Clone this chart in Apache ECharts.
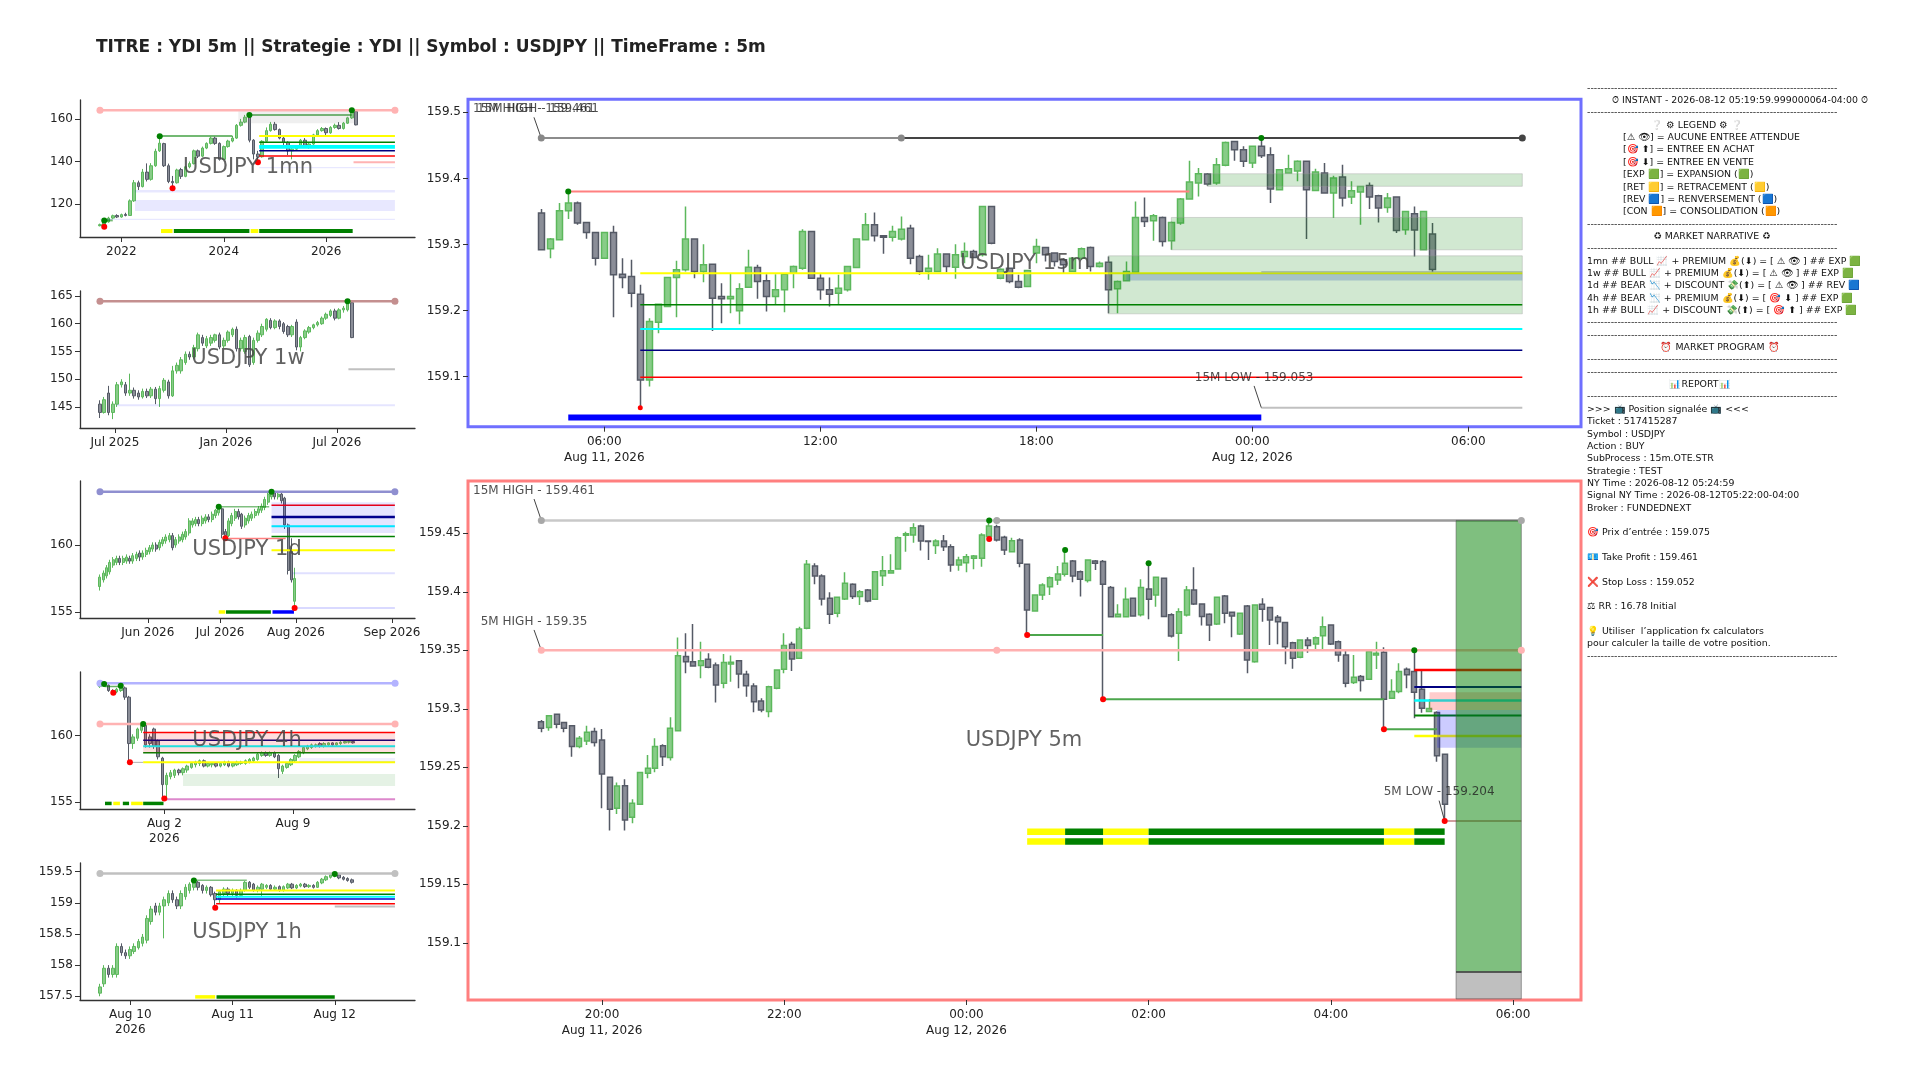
<!doctype html>
<html>
<head>
<meta charset="utf-8">
<script src="https://cdn.jsdelivr.net/npm/echarts@6.0.0/dist/echarts.min.js"></script>
<style>html,body{margin:0;padding:0;background:#fff;}#main{width:1920px;height:1080px;}</style>
</head>
<body>
<div id="main"></div>
<script type="text/javascript">
// ---------- candles : [open, close, low, high] ----------
var c1mn = [
[109.8,110.3,109.5,110.8],[110.2,111.6,109.3,112.3],[111.6,113.4,111.2,114.0],[113.4,114.5,113.0,115.0],
[114.6,113.9,113.4,115.2],[113.9,115.0,113.6,115.5],[115.1,114.6,114.2,115.9],[114.6,121.5,114.4,122.2],
[121.5,130.0,121.0,131.3],[130.0,128.2,126.6,131.0],[128.2,135.0,127.8,136.5],[135.0,131.6,130.6,139.1],
[131.6,138.0,131.0,139.2],[138.0,144.8,137.5,146.0],[145.0,148.6,144.5,151.9],[148.4,138.0,137.4,148.8],
[138.0,130.6,129.8,139.0],[130.6,130.0,127.4,133.2],[130.0,136.0,129.6,136.6],[136.2,133.0,131.8,137.0],
[133.0,137.5,132.6,138.0],[137.5,139.0,136.8,140.0],[139.0,145.0,138.6,145.6],[145.0,142.5,141.6,145.6],
[142.5,146.3,142.0,147.0],[146.3,148.5,145.8,149.0],[148.5,151.0,148.0,151.6],[151.0,148.5,147.8,151.6],
[148.5,141.0,140.4,149.0],[141.0,147.0,140.8,147.5],[147.0,149.6,146.5,150.2],[149.6,151.0,149.0,152.0],
[151.0,157.0,150.6,157.6],[157.0,158.5,156.4,160.0],[158.5,160.8,158.0,161.9],[161.0,150.0,149.0,161.9],
[150.0,143.5,141.0,150.5],[143.5,142.2,139.6,145.0],[142.2,149.5,141.8,150.0],[149.5,154.5,149.0,156.0],
[154.5,157.5,154.0,158.6],[157.5,155.0,154.5,158.6],[155.0,151.0,150.4,155.5],[151.0,149.0,147.0,151.5],
[149.0,145.0,143.0,149.5],[145.0,145.8,141.0,146.5],[145.8,147.0,145.0,147.6],[147.0,150.0,146.6,150.6],
[150.0,147.5,147.0,151.0],[147.5,148.2,146.0,148.8],[148.2,152.5,147.8,153.0],[152.5,154.5,152.0,155.2],
[154.5,155.5,154.0,156.2],[155.5,153.5,152.0,156.0],[153.5,156.0,153.0,156.6],[156.0,157.0,155.4,157.8],
[157.0,155.5,155.0,158.5],[155.5,158.0,155.0,158.6],[158.0,160.5,157.6,161.0],[160.5,163.5,160.0,164.1],
[163.5,157.2,157.0,163.8]
];
var c1w = [
[145.5,144.0,143.0,146.2],[144.0,146.3,143.8,146.8],[147.5,144.0,143.5,148.8],[144.0,145.5,142.8,146.0],
[145.5,149.0,145.0,149.5],[149.0,149.5,148.5,150.0],[149.0,147.5,147.0,149.5],[147.5,148.0,147.0,151.0],
[148.0,147.0,146.5,148.5],[147.5,146.8,146.3,148.0],[146.8,147.8,146.5,148.3],[147.8,147.0,146.6,148.3],
[147.0,148.2,146.6,148.6],[148.2,146.5,145.5,148.6],[146.5,148.3,145.0,148.8],[148.0,149.8,147.6,150.2],
[149.5,147.0,146.5,149.9],[147.0,151.5,146.8,152.4],[151.5,152.5,151.0,153.0],[151.5,153.5,151.0,154.0],
[153.0,154.5,152.6,155.0],[154.5,154.0,153.5,155.0],[154.0,155.7,153.6,156.2],[155.5,158.0,155.0,158.4],
[157.5,156.5,156.0,158.0],[156.0,157.3,155.6,157.8],[156.5,157.5,156.0,158.0],[157.0,158.0,156.6,158.2],
[158.0,155.8,155.4,158.4],[156.0,157.0,155.6,157.5],[157.0,158.5,156.6,158.8],[158.0,159.0,157.6,159.3],
[159.0,155.5,155.0,159.5],[155.5,157.0,155.0,157.5],[155.0,157.5,154.6,158.0],[157.7,152.6,152.2,158.0],
[153.0,157.0,152.6,157.5],[157.0,158.3,156.6,158.8],[158.0,159.5,157.6,160.0],[159.0,160.8,158.6,161.0],
[160.6,159.3,159.0,161.0],[159.3,160.5,159.0,160.8],[160.5,159.5,159.0,160.8],[160.0,158.6,158.2,160.3],
[159.5,158.0,157.6,159.8],[158.0,159.5,157.6,159.8],[160.3,155.8,155.2,160.8],[155.8,157.5,155.0,157.8],
[157.5,158.7,157.2,159.0],[158.5,159.3,158.2,159.6],[159.3,159.8,159.0,160.0],[159.8,160.2,159.5,160.5],
[160.0,161.0,159.8,161.3],[161.0,161.7,160.7,162.0],[161.5,162.3,161.2,162.6],[162.3,161.0,160.6,162.7],
[161.0,162.5,160.8,162.8],[162.5,162.8,162.0,163.2],[162.5,164.0,162.2,164.1],[163.8,157.5,157.4,164.0]
];
var c1d = [
[156.9,157.6,156.6,157.8],[157.4,157.9,157.2,158.1],[157.7,158.3,157.5,158.5],[158.0,158.7,157.8,158.9],
[158.5,158.9,158.3,159.1],[158.7,159.0,158.5,159.2],[159.0,158.7,158.5,159.2],[158.7,159.0,158.5,159.2],
[158.8,159.1,158.6,159.3],[159.0,158.8,158.6,159.2],[158.8,159.2,158.6,159.4],[159.0,159.3,158.8,159.5],
[159.4,159.1,158.8,159.6],[159.1,159.4,158.9,159.6],[159.3,159.6,159.1,159.8],[159.5,159.8,159.3,160.0],
[159.7,160.0,159.5,160.2],[160.0,159.7,159.5,160.2],[159.8,160.2,159.6,160.4],[160.1,160.4,159.9,160.6],
[160.3,160.6,160.1,160.8],[160.4,160.7,160.2,160.9],[160.7,159.8,159.6,160.9],[160.0,160.4,159.8,160.6],
[160.3,160.6,160.1,160.8],[160.4,160.8,160.2,161.0],[160.6,161.0,160.4,161.2],[160.9,161.8,160.7,162.0],
[161.5,161.8,161.3,162.0],[161.6,161.9,161.4,162.1],[161.9,161.6,161.4,162.1],[161.6,162.0,161.4,162.2],
[161.8,162.1,161.6,162.3],[162.1,161.9,161.7,162.3],[161.9,162.3,161.7,162.5],[162.2,162.6,162.0,162.7],
[162.4,162.8,162.2,162.86],[162.7,160.8,160.5,162.8],[161.0,160.7,160.5,161.2],[160.7,161.8,160.6,162.0],
[161.6,162.2,161.4,162.4],[162.0,162.5,161.8,162.7],[162.5,162.1,161.9,162.7],[162.3,161.4,161.2,162.4],
[161.5,162.0,161.3,162.2],[161.8,162.2,161.6,162.4],[162.0,162.3,161.8,162.5],[162.2,162.5,162.0,162.7],
[162.4,162.7,162.2,162.9],[162.6,162.9,162.4,163.1],[162.8,163.4,162.6,163.6],[163.2,163.8,163.0,163.9],
[163.6,163.9,163.4,163.97],[163.9,163.6,163.4,163.95],[163.6,163.8,163.4,163.9],[163.8,163.3,163.1,163.9],
[163.5,161.5,161.2,163.6],[161.5,158.1,157.8,161.6],[159.6,157.4,157.2,160.5],[155.8,157.5,155.3,158.3]
];
var c4h = [
[163.7,163.9,163.6,163.95],[163.8,163.9,163.7,163.96],[163.8,163.4,163.3,163.9],[163.4,163.3,163.2,163.5],
[163.3,163.5,163.2,163.6],[163.4,163.6,163.3,163.76],[163.6,162.9,162.7,163.7],[162.9,159.4,158.0,163.0],
[159.4,159.9,159.0,160.1],[159.8,160.5,159.6,160.6],[160.4,160.8,160.2,160.9],[160.8,159.3,159.1,160.9],
[159.9,159.4,159.1,160.1],[160.5,159.2,159.0,160.6],[159.6,158.4,158.2,159.7],[158.3,156.3,155.25,158.4],
[156.3,157.0,155.2,157.2],[156.9,157.2,156.7,157.4],[157.0,157.4,156.8,157.5],[157.4,157.2,157.0,157.5],
[157.2,157.5,157.0,157.6],[157.4,157.7,157.2,157.8],[157.6,157.9,157.5,158.0],[157.8,158.0,157.6,158.1],
[157.9,158.1,157.7,158.2],[158.1,157.7,157.6,158.2],[157.7,157.9,157.6,158.0],[157.8,157.9,157.6,158.0],
[157.9,157.7,157.6,158.0],[157.7,157.9,157.6,158.0],[157.8,158.0,157.7,158.1],[158.0,157.7,157.6,158.1],
[157.7,157.9,157.6,158.0],[157.8,158.0,157.7,158.1],[157.9,158.0,157.8,158.1],[157.9,158.1,157.8,158.2],
[158.0,158.2,157.9,158.3],[158.1,158.3,158.0,158.4],[158.2,158.6,158.1,158.7],[158.5,158.7,158.4,158.8],
[158.7,158.5,158.4,158.8],[158.5,158.7,158.4,158.8],[158.7,158.4,158.3,158.8],[158.5,157.5,156.8,158.6],
[157.3,157.7,157.1,157.8],[157.6,157.9,157.5,158.0],[157.8,158.2,157.7,158.3],[158.1,158.5,158.0,158.6],
[158.4,158.8,158.3,158.9],[158.7,159.1,158.6,159.2],[159.0,159.2,158.9,159.3],[159.1,159.3,159.0,159.4],
[159.2,159.3,159.1,159.4],[159.4,159.2,159.1,159.5],[159.2,159.4,159.1,159.5],[159.3,159.45,159.2,159.5],
[159.45,159.3,159.2,159.5],[159.3,159.45,159.2,159.5],[159.4,159.5,159.3,159.6],[159.45,159.55,159.4,159.6],
[159.5,159.55,159.4,159.6],[159.55,159.45,159.4,159.6]
];
var c1h = [
[157.55,157.65,157.5,157.7],[157.7,157.95,157.65,158.0],[157.95,157.85,157.8,158.0],[157.85,157.95,157.8,158.0],
[157.85,158.3,157.8,158.35],[158.3,158.2,158.15,158.35],[158.2,158.15,158.1,158.25],[158.15,158.25,158.1,158.3],
[158.22,158.3,158.18,158.35],[158.28,158.38,158.25,158.42],[158.35,158.45,158.3,158.5],[158.4,158.75,158.35,158.8],
[158.7,158.9,158.65,158.95],[158.95,158.85,158.8,159.0],[158.85,158.95,158.8,159.0],[158.95,159.05,158.43,159.1],
[159.0,159.15,158.95,159.2],[159.15,159.05,159.0,159.2],[159.05,158.95,158.9,159.1],[158.95,159.15,158.9,159.2],
[159.1,159.25,159.05,159.3],[159.2,159.3,159.15,159.33],[159.25,159.35,159.2,159.36],[159.33,159.25,159.2,159.35],
[159.28,159.2,159.15,159.3],[159.2,159.25,159.15,159.28],[159.25,159.13,159.1,159.27],[159.15,159.05,158.92,159.18],
[159.05,159.18,159.0,159.2],[159.15,159.22,159.1,159.25],[159.22,159.15,159.1,159.25],[159.15,159.2,159.1,159.23],
[159.2,159.12,159.08,159.22],[159.12,159.2,159.1,159.23],[159.2,159.33,159.18,159.35],[159.33,159.25,159.22,159.35],
[159.3,159.2,159.18,159.32],[159.2,159.25,159.17,159.28],[159.22,159.3,159.1,159.32],[159.25,159.28,159.22,159.3],
[159.28,159.22,159.2,159.3],[159.22,159.25,159.2,159.28],[159.26,159.2,159.18,159.28],[159.2,159.26,159.18,159.28],
[159.24,159.3,159.22,159.32],[159.3,159.24,159.22,159.32],[159.24,159.28,159.22,159.3],[159.27,159.3,159.25,159.32],
[159.3,159.26,159.24,159.32],[159.26,159.28,159.24,159.3],[159.28,159.25,159.23,159.3],[159.25,159.33,159.24,159.35],
[159.32,159.38,159.3,159.4],[159.37,159.42,159.35,159.44],[159.41,159.45,159.39,159.46],[159.43,159.46,159.41,159.465],
[159.45,159.4,159.38,159.46],[159.41,159.38,159.36,159.43],[159.39,159.36,159.34,159.41],[159.37,159.33,159.31,159.39]
];
var c15m = [
[159.3475,159.2919,159.2909,159.3535],[159.2934,159.3081,159.2793,159.3096],[159.3071,159.351,159.3071,159.3626],
[159.351,159.3626,159.3384,159.3803],[159.3626,159.3323,159.3298,159.3652],[159.3333,159.3182,159.3086,159.3333],
[159.3182,159.2793,159.2682,159.3182],[159.2793,159.3182,159.2793,159.3182],[159.3182,159.254,159.1899,159.3283],
[159.255,159.25,159.2338,159.2793],[159.2515,159.2263,159.205,159.2768],[159.2247,159.095,159.053,159.2389],
[159.095,159.1833,159.085,159.1884],[159.1823,159.2096,159.1657,159.2096],[159.206,159.25,159.205,159.251],
[159.25,159.2616,159.1899,159.2753],[159.2616,159.3081,159.2591,159.3576],[159.3081,159.2591,159.249,159.3081],
[159.2591,159.2692,159.2429,159.3005],[159.2702,159.2187,159.1692,159.2702],[159.2212,159.2177,159.1808,159.2414],
[159.2177,159.2212,159.196,159.2556],[159.1995,159.2328,159.1793,159.2414],[159.2354,159.2657,159.2343,159.2919],
[159.2652,159.2439,159.2177,159.2692],[159.245,159.2212,159.1985,159.255],[159.2212,159.2313,159.2096,159.255],
[159.2313,159.255,159.1975,159.255],[159.2566,159.2667,159.2338,159.2682],[159.2641,159.3197,159.2616,159.3232],
[159.3197,159.249,159.249,159.3197],[159.249,159.2313,159.2162,159.255],[159.2313,159.2247,159.206,159.25],
[159.2263,159.2338,159.2086,159.254],[159.2313,159.2667,159.2288,159.2667],[159.2652,159.3081,159.2641,159.3081],
[159.3071,159.3298,159.3061,159.3475],[159.3298,159.3131,159.3045,159.3485],[159.3131,159.3111,159.2859,159.3131],
[159.3111,159.3197,159.3045,159.3283],[159.3081,159.3232,159.3061,159.3424],[159.3247,159.2793,159.2702,159.3298],
[159.2818,159.2591,159.254,159.2843],[159.2591,159.2641,159.2465,159.2843],[159.2591,159.2854,159.2581,159.2944],
[159.2854,159.2667,159.2581,159.2854],[159.2657,159.2843,159.248,159.3005],[159.2818,159.2894,159.2717,159.303],
[159.2894,159.2803,159.2793,159.2919],[159.2843,159.3576,159.2818,159.3586],[159.3576,159.302,159.3005,159.3586],
[159.249,159.2626,159.2475,159.2641],[159.2641,159.2439,159.2414,159.2652],[159.2439,159.2354,159.2338,159.254],
[159.2364,159.2606,159.2354,159.2616],[159.287,159.297,159.2717,159.3086],[159.2955,159.2843,159.2742,159.2955],
[159.2869,159.2742,159.2667,159.2879],[159.2768,159.2692,159.2556,159.2793],[159.2591,159.2793,159.2581,159.2803],
[159.2793,159.2934,159.2768,159.2955],[159.2955,159.2667,159.2591,159.297],[159.2667,159.2717,159.2652,159.2742],
[159.2732,159.2313,159.196,159.2818],[159.2328,159.2439,159.196,159.2454],[159.245,159.2591,159.244,159.2742],
[159.2581,159.3409,159.2566,159.3652],[159.3409,159.3348,159.3263,159.3712],[159.3359,159.3434,159.3055,159.346],
[159.3409,159.3045,159.297,159.3424],[159.3055,159.3333,159.2919,159.3348],[159.3323,159.3687,159.3298,159.3702],
[159.3687,159.3944,159.3677,159.4268],[159.3929,159.4071,159.3727,159.4157],[159.4066,159.3914,159.3889,159.4081],
[159.3929,159.4207,159.3904,159.4308],[159.4197,159.4545,159.4182,159.456],[159.456,159.4434,159.4268,159.457],
[159.4434,159.4258,159.4172,159.4485],[159.4232,159.4485,159.4157,159.4495],[159.4485,159.4343,159.4308,159.461],
[159.4359,159.3838,159.3626,159.447],[159.3828,159.4131,159.3818,159.4141],[159.4081,159.4146,159.4071,159.4359],
[159.411,159.426,159.3955,159.4273],[159.4258,159.3828,159.3081,159.4258],[159.3818,159.4096,159.3813,159.4146],
[159.4081,159.3778,159.3768,159.4232],[159.3778,159.4005,159.3399,159.404],[159.402,159.3702,159.3576,159.4207],
[159.3717,159.3813,159.3611,159.3955],[159.3793,159.3879,159.3298,159.3889],[159.3894,159.3717,159.3535,159.3939],
[159.3737,159.355,159.3333,159.3752],[159.356,159.3702,159.348,159.3778],[159.3717,159.3212,159.3172,159.3727],
[159.3222,159.35,159.3146,159.351],[159.3465,159.322,159.2818,159.3576],[159.292,159.35,159.292,159.35],
[159.316,159.262,159.258,159.3323]
];
var c5m = [
[159.289,159.2833,159.28,159.2905],[159.284,159.294,159.2813,159.2947],[159.2953,159.2868,159.2833,159.2953],
[159.2882,159.2833,159.28,159.289],[159.2856,159.2677,159.259,159.2862],[159.2677,159.2748,159.2662,159.2768],
[159.2725,159.2799,159.269,159.2856],[159.2805,159.2711,159.2677,159.2839],[159.2734,159.2443,159.215,159.2828],
[159.2415,159.2141,159.1959,159.2415],[159.215,159.2341,159.2101,159.2369],[159.2343,159.205,159.1959,159.2397],
[159.2073,159.2192,159.2021,159.2226],[159.2184,159.2455,159.2178,159.2455],[159.2449,159.2491,159.2406,159.2605],
[159.2491,159.2677,159.2457,159.2748],[159.2685,159.2591,159.2511,159.2697],[159.2583,159.2833,159.2557,159.2927],
[159.2813,159.3454,159.2813,159.3609],[159.3446,159.3403,159.3303,159.3645],[159.3403,159.3366,159.3366,159.3725],
[159.3369,159.3411,159.3262,159.3574],[159.3423,159.3355,159.3346,159.3474],[159.3375,159.3204,159.3053,159.3395],
[159.3218,159.3395,159.3175,159.3469],[159.3383,159.3397,159.3232,159.3455],[159.3411,159.3298,159.3175,159.3417],
[159.3295,159.3198,159.3104,159.3326],[159.3195,159.3061,159.297,159.3218],[159.3067,159.299,159.297,159.309],
[159.2976,159.3189,159.2927,159.3198],[159.3175,159.3332,159.3167,159.3338],[159.3337,159.354,159.3303,159.3645],
[159.3551,159.3426,159.3323,159.3574],[159.3432,159.3682,159.3426,159.3702],[159.3688,159.4235,159.368,159.4272],
[159.4221,159.4135,159.4064,159.4244],[159.4135,159.3939,159.3882,159.415],[159.3944,159.3808,159.3725,159.3996],
[159.3816,159.3953,159.3782,159.3959],[159.3939,159.4073,159.393,159.4167],[159.4064,159.3959,159.3939,159.4073],
[159.3959,159.4001,159.3887,159.4016],[159.4016,159.3922,159.391,159.4024],[159.3936,159.4172,159.3936,159.4178],
[159.4137,159.4179,159.405,159.4306],[159.416,159.4179,159.416,159.432],[159.4195,159.4463,159.4192,159.4472],
[159.4484,159.4497,159.4343,159.4514],[159.4486,159.4548,159.442,159.4585],[159.4563,159.4434,159.4352,159.4572],
[159.4434,159.4429,159.4272,159.4434],[159.4395,159.4434,159.4323,159.4449],[159.4434,159.4386,159.4348,159.4486],
[159.4386,159.4229,159.4172,159.4406],[159.4229,159.4272,159.4179,159.43],[159.4249,159.43,159.4167,159.4323],
[159.4286,159.4306,159.4192,159.4315],[159.4286,159.4486,159.4215,159.45],[159.4472,159.4563,159.4452,159.461],
[159.4557,159.4443,159.4429,159.4572],[159.4466,159.4358,159.4315,159.4478],[159.4343,159.4437,159.4335,159.4463],
[159.4443,159.4244,159.4209,159.4458],[159.4235,159.3845,159.3631,159.4235],[159.3836,159.3973,159.383,159.398],
[159.3973,159.4058,159.393,159.4073],[159.4044,159.4121,159.3973,159.413],[159.4101,159.4152,159.4058,159.4221],
[159.415,159.4244,159.413,159.4358],[159.4264,159.4136,159.4082,159.4272],[159.4172,159.4107,159.3959,159.4181],
[159.4096,159.4272,159.4079,159.4278],[159.4264,159.4244,159.4187,159.4272],[159.4258,159.4064,159.3081,159.4272],
[159.4037,159.3786,159.378,159.405],[159.3786,159.3809,159.378,159.3894],[159.3786,159.3937,159.378,159.4037],
[159.3944,159.3794,159.3789,159.395],[159.3803,159.4037,159.3789,159.4108],[159.4023,159.3937,159.3766,159.4244],
[159.3973,159.4124,159.3873,159.413],[159.4116,159.3788,159.3782,159.4121],[159.3803,159.3623,159.3609,159.3816],
[159.3645,159.383,159.3409,159.3859],[159.3802,159.4016,159.3788,159.405],[159.4016,159.3896,159.3887,159.421],
[159.3896,159.3788,159.3711,159.3902],[159.3808,159.3716,159.358,159.3816],[159.3725,159.3953,159.3716,159.3959],
[159.3964,159.3816,159.3731,159.3973],[159.3825,159.3793,159.3611,159.383],[159.364,159.3816,159.3631,159.3822],
[159.3879,159.3417,159.3303,159.3887],[159.3403,159.3887,159.3394,159.3893],[159.3893,159.385,159.3745,159.3944],
[159.3865,159.3759,159.3545,159.3873],[159.3782,159.3745,159.3551,159.3802],[159.3737,159.3531,159.338,159.3745],
[159.3565,159.3431,159.3343,159.3574],[159.344,159.3588,159.3431,159.3594],[159.3588,159.354,159.348,159.3611],
[159.3554,159.3608,159.3503,159.3617],[159.3625,159.3702,159.3503,159.3788],[159.3716,159.3554,159.3546,159.3722],
[159.3574,159.346,159.3403,159.3583],[159.346,159.3218,159.3184,159.3497],[159.3224,159.327,159.3212,159.346],
[159.3275,159.3241,159.3147,159.3289],[159.3252,159.3489,159.3246,159.3509],[159.346,159.3475,159.334,159.3574],
[159.3483,159.3081,159.2825,159.3526],[159.309,159.3147,159.3084,159.3252],[159.3147,159.3318,159.3132,159.3389],
[159.3338,159.329,159.3175,159.3352],[159.3318,159.3141,159.2919,159.35],[159.3167,159.3004,159.2967,159.3332],
[159.2976,159.3003,159.297,159.3084],[159.2969,159.2598,159.2547,159.2978],[159.2612,159.2185,159.2036,159.2612]
];

// ---------- tick positions / labels ----------
var tx1mn = [5, 29, 53],            lx1mn = ['2022', '2024', '2026'];
var tx1w  = [3.5, 29.5, 55.5],      lx1w  = ['Jul 2025', 'Jan 2026', 'Jul 2026'];
var tx1d  = [14.5, 36.4, 59.4, 88.5], lx1d = ['Jun 2026', 'Jul 2026', 'Aug 2026', 'Sep 2026'];
var tx4h  = [15.5, 46.5],           lx4h  = ['Aug 2\n2026', 'Aug 9'];
var tx1h  = [7.1, 31.1, 55],        lx1h  = ['Aug 10\n2026', 'Aug 11', 'Aug 12'];
var tx15m = [7, 31, 55, 79, 103],   lx15m = ['06:00\nAug 11, 2026', '12:00', '18:00', '00:00\nAug 12, 2026', '06:00'];
var tx5m  = [8, 32, 56, 80, 104, 128], lx5m = ['20:00\nAug 11, 2026', '22:00', '00:00\nAug 12, 2026', '02:00', '04:00', '06:00'];
var ty1mn = [120, 140, 160];
var ty1w  = [145, 150, 155, 160, 165];
var ty1d  = [155, 160];
var ty4h  = [155, 160];
var ty1h  = [157.5, 158, 158.5, 159, 159.5];
var ty15m = [159.1, 159.2, 159.3, 159.4, 159.5];
var ty5m  = [159.1, 159.15, 159.2, 159.25, 159.3, 159.35, 159.4, 159.45];

// ---------- levels : [x0, x1, price] ----------
var lv1mn = [[0,69.1,164.1],[1.2,3,112.3],[14,31,152.0],[35,59,161.9],[37.3,69.1,152.0],[37.3,69.1,149.0],
             [37.3,69.1,147.3],[37.3,69.1,146.5],[37.3,69.1,145.0],[37.3,69.1,142.6],[59.4,69.1,139.6]];
var lv1w  = [[0,69.1,164.05],[3.9,69.1,145.3],[58.2,69.1,151.8]];
var lv1d  = [[0,89.4,163.97],[36,51.3,162.86],[38,56.3,160.49],[52,89.4,162.97],[52,89.4,162.1],
             [52,89.4,161.4],[52,89.4,160.63],[52,89.4,159.6],[58.3,89.4,157.9],[59,89.4,155.3]];
var lv4h  = [[0,71.1,163.96],[0,71.1,160.87],[10.4,71.1,160.23],[10.4,71.1,159.65],[10.4,71.1,159.2],
             [10.4,71.1,158.7],[10.4,71.1,157.98],[7.2,10.4,157.98],[15.5,71.1,155.2],[1.1,4.8,163.7]];
var lv1h  = [[0,69.1,159.47],[22,34.4,159.365],[27.2,69.1,159.2],[27.2,69.1,159.14],[27.2,69.1,159.1],
             [27.2,69.1,159.06],[27.2,69.1,158.985],[55,69.1,158.94]];
var lv15m = [[0,40,159.461],[40,109,159.461],[3,72,159.38],[11,109,159.2566],[11,109,159.2086],
             [11,109,159.1722],[11,109,159.14],[11,109,159.099],[80,109,159.053],[80,109,159.2585]];
var lv5m  = [[0,60,159.461],[60,129.1,159.461],[0,129.1,159.35],[64,74,159.3631],[74,111,159.3081],
             [111,118,159.2825],[115,129.1,159.3332],[115,129.1,159.3187],[115,129.1,159.307],
             [115,129.1,159.2942],[115,129.1,159.2768],[119,129.1,159.204],[120.5,129.1,159.075]];

// ---------- zones : [x0, x1, low, high] ----------
var zn1mnGrey = [[32.4,59.8,158.0,163.5]];
var zn1mnBlue = [[8.2,69.1,125.4,126.6],[8.2,69.1,116.7,121.9],[0,69.1,112.5,113.1],[37.3,69.1,136.8,137.4]];
var zn1dBlue  = [[52,89.4,160.9,163.2]];
var zn4hPink  = [[10.4,71.1,158.7,160.23]];
var zn4hGreen = [[20,71.1,156.2,157.1]];
var zn4hBlue  = [[48,71.1,157.98,158.3]];
var zn15Green = [[74,109,159.388,159.407],[70,109,159.2919,159.3409],[63,109,159.195,159.2828]];
var zn15Steel = [[65,109,159.2455,159.2556]];
var zn5Pink   = [[117,129.1,159.299,159.3141]];
var zn5Blue   = [[118,129.1,159.2668,159.299]];
var zn5Tp     = [[120.5,129.1,159.075,159.461]];
var zn5Sl     = [[120.5,129.1,159.052,159.075]];

// ---------- phase bars : [x0, x1] on a price row ----------
var bd1mnY = [[14.3,17],[35.3,37.1]], bd1mnG = [[17.3,35],[37.3,59.2]], row1mn = [107.3];
var bd1dY = [[36,38]], bd1dG = [[38.2,51.8]], bd1dB = [[52.3,58.8]], row1d = [155.0];
var bd4hY = [[3.2,4.8],[7.5,10.3]], bd4hG = [[1.2,2.8],[5.5,7],[10.4,15.3]], row4h = [154.88];
var bd1hY = [[22.3,27]], bd1hG = [[27.3,55]], row1h = [157.49];
var bd15B = [[3,80]], row15 = [159.038];
var bd5Y = [[64,69],[74,80],[111,115]], bd5G = [[69,74],[80,111],[115,119]], row5 = [159.195, 159.1865];

// ---------- swing / level dots : [x, price] ----------
var dt1mnG = [[1,112.3],[14,151.9],[35,161.9],[59,164.1]], dt1mnR = [[1,109.3],[17,127.4],[37,139.6]], dt1mnP = [[0,164.1],[69.1,164.1]];
var dt1wG = [[58,164.05]], dt1wP = [[0,164.05],[69.1,164.05]];
var dt1dG = [[36,162.86],[52,163.97]], dt1dR = [[38,160.5],[59,155.3]], dt1dP = [[0,163.97],[89.4,163.97]];
var dt4hG = [[1,163.9],[5,163.76],[10.4,160.87]], dt4hR = [[3.2,163.24],[7.2,157.98],[15.5,155.25]];
var dt4hL = [[0,163.96],[71.1,163.96]], dt4hP = [[0,160.87],[71.1,160.87]];
var dt1hG = [[22,159.36],[55,159.465]], dt1hR = [[27,158.92]], dt1hP = [[0,159.47],[69.1,159.47]];
var dt15Grey = [[0,159.461],[40,159.461]], dt15Dark = [[109,159.461]], dt15G = [[3,159.3803],[80,159.461]], dt15R = [[11,159.053]];
var dt5Grey = [[0,159.461],[60,159.461],[129.1,159.461]], dt5Pink = [[0,159.35],[60,159.35],[129.1,159.35]];
var dt5G = [[59,159.461],[69,159.4358],[80,159.4244],[115,159.35]];
var dt5R = [[59,159.4452],[64,159.3631],[74,159.3081],[111,159.2825],[119,159.204]];

// ---------- annotations : [text, labelX, labelY, pointX, pointY] ----------
var an15 = [['15M HIGH - 159.461', -0.81, 159.4924, 0, 159.461], ['15M LOW - 159.053', 79.2, 159.0859, 80, 159.053]];
var an5 = [['15M HIGH - 159.461', -0.96, 159.4793, 0, 159.461], ['5M HIGH - 159.35', -0.96, 159.3674, 0, 159.35],
           ['5M LOW - 159.204', 118.27, 159.2215, 119, 159.204]];

var panelLines = [
  ['-', 'dash'], ['⏱ INSTANT - 2026-08-12 05:19:59.999000064-04:00 ⏱', 'c1740'], ['-', 'dash'],
  ['❔ ⚙ LEGEND ⚙ ❔', 'c1697'],
  ['[⚠ 👁] = AUCUNE ENTREE ATTENDUE', 'i'], ['[🎯 ⬆] = ENTREE EN ACHAT', 'i'], ['[🎯 ⬇] = ENTREE EN VENTE', 'i'],
  ['[EXP 🟩] = EXPANSION (🟩)', 'i'], ['[RET 🟨] = RETRACEMENT (🟨)', 'i'], ['[REV 🟦] = RENVERSEMENT (🟦)', 'i'],
  ['[CON 🟧] = CONSOLIDATION (🟧)', 'i'], ['-', 'dash'], ['♻ MARKET NARRATIVE ♻', 'c1712'], ['-', 'dash'],
  ['1mn ## BULL 📈 + PREMIUM 💰(⬇) = [ ⚠ 👁 ] ## EXP 🟩', 'l'],
  ['1w ## BULL 📈 + PREMIUM 💰(⬇) = [ ⚠ 👁 ] ## EXP 🟩', 'l'],
  ['1d ## BEAR 📉 + DISCOUNT 💸(⬆) = [ ⚠ 👁 ] ## REV 🟦', 'l'],
  ['4h ## BEAR 📉 + PREMIUM 💰(⬇) = [ 🎯 ⬇ ] ## EXP 🟩', 'l'],
  ['1h ## BULL 📈 + DISCOUNT 💸(⬆) = [ 🎯 ⬆ ] ## EXP 🟩', 'l'],
  ['-', 'dash'], ['-', 'dash'], ['⏰ MARKET PROGRAM ⏰', 'c1720'], ['-', 'dash'], ['-', 'dash'],
  ['📊REPORT📊', 'c1700'], ['-', 'dash'],
  ['>>> 📺 Position signalée 📺 <<<', 'l'], ['Ticket : 517415287', 'l'], ['Symbol : USDJPY', 'l'], ['Action : BUY', 'l'],
  ['SubProcess : 15m.OTE.STR', 'l'], ['Strategie : TEST', 'l'], ['NY Time : 2026-08-12 05:24:59', 'l'],
  ['Signal NY Time : 2026-08-12T05:22:00-04:00', 'l'], ['Broker : FUNDEDNEXT', 'l'], ['', 'l'],
  ['🎯 Prix d’entrée : 159.075', 'l'], ['', 'l'], ['💶 Take Profit : 159.461', 'l'], ['', 'l'],
  ['❌ Stop Loss : 159.052', 'l'], ['', 'l'], ['⚖ RR : 16.78 Initial', 'l'], ['', 'l'],
  ['💡 Utiliser  l’application fx calculators', 'l'], ['pour calculer la taille de votre position.', 'l'], ['-', 'dash']
];

// ---------- build ----------
var FONT = 'DejaVu Sans';
var UP = '#88cc88', UPB = '#5cb85c', DN = '#8b8e98', DNB = '#555a66';
var grids = [], xAxes = [], yAxes = [], series = [], graphics = [];

function lookup(ticks, labels, v) {
  for (var i = 0; i < ticks.length; i++) { if (Math.abs(ticks[i] - v) < 1e-6) return labels[i]; }
  return '';
}
function panel(box, xr, yr, xt, xl, yt, frame, lh) {
  var g = grids.length;
  grids.push({left: box[0], top: box[1], width: box[2], height: box[3], show: !!frame,
    borderColor: frame || '#000', borderWidth: 3, backgroundColor: 'rgba(0,0,0,0)'});
  xAxes.push({type: 'value', gridIndex: g, min: xr[0], max: xr[1], splitLine: {show: false},
    axisLine: {show: !frame, onZero: false, lineStyle: {color: '#333', width: 1.3}},
    axisTick: {show: true, customValues: xt, length: 5, lineStyle: {color: '#333', width: 1}},
    axisLabel: {customValues: xt, formatter: function (v) { return lookup(xt, xl, v); },
      fontFamily: FONT, fontSize: 12, color: '#222', margin: 7, lineHeight: lh || 16}});
  yAxes.push({type: 'value', gridIndex: g, min: yr[0], max: yr[1], splitLine: {show: false},
    axisLine: {show: !frame, onZero: false, lineStyle: {color: '#333', width: 1.3}},
    axisTick: {show: true, customValues: yt, length: 5, lineStyle: {color: '#333', width: 1}},
    axisLabel: {customValues: yt, formatter: function (v) { return String(+v.toFixed(2)); },
      fontFamily: FONT, fontSize: 12, color: '#222', margin: 7}});
  return g;
}
function candles(g, arr, w, bw) {
  series.push({type: 'candlestick', xAxisIndex: g, yAxisIndex: g, silent: true, z: 2, barWidth: w,
    data: arr.map(function (d, i) { return [i, d[0], d[1], d[2], d[3]]; }),
    encode: {x: 0, y: [1, 2, 3, 4]},
    itemStyle: {color: UP, color0: DN, borderColor: UPB, borderColor0: DNB, borderWidth: bw}});
}
function levels(g, list, styles, z) {
  list.forEach(function (d, i) {
    series.push({type: 'line', xAxisIndex: g, yAxisIndex: g, silent: true, z: (styles[i][2] || z || 3),
      data: [[d[0], d[2]], [d[1], d[2]]], symbol: 'none',
      lineStyle: {color: styles[i][0], width: styles[i][1]}});
  });
}
function dots(g, pts, color, size, z) {
  series.push({type: 'scatter', xAxisIndex: g, yAxisIndex: g, silent: true, z: z || 7,
    data: pts, symbolSize: size, itemStyle: {color: color, opacity: 1}});
}
function zones(g, list, fill, stroke, z) {
  series.push({type: 'custom', xAxisIndex: g, yAxisIndex: g, silent: true, z: z || 4, clip: true, data: list,
    renderItem: function (p, api) {
      var a = api.coord([api.value(0), api.value(3)]), b = api.coord([api.value(1), api.value(2)]);
      return {type: 'rect', shape: {x: a[0], y: a[1], width: b[0] - a[0], height: b[1] - a[1]},
        style: {fill: fill, stroke: stroke || null, lineWidth: 1}};
    }});
}
function bands(g, list, rows, color, h) {
  rows.forEach(function (r) {
    series.push({type: 'custom', xAxisIndex: g, yAxisIndex: g, silent: true, z: 5, data: list,
      renderItem: function (p, api) {
        var a = api.coord([api.value(0), r]), b = api.coord([api.value(1), r]);
        return {type: 'rect', shape: {x: a[0], y: a[1] - h / 2, width: b[0] - a[0], height: h}, style: {fill: color}};
      }});
  });
}
function annots(g, list, dup) {
  list.forEach(function (a) {
    series.push({type: 'line', xAxisIndex: g, yAxisIndex: g, silent: true, z: 6, symbol: 'none',
      data: [[a[1], a[2]], [a[3], a[4]]], lineStyle: {color: '#444', width: 1}});
    var offs = dup ? [0, 4] : [0];
    offs.forEach(function (o) {
      series.push({type: 'scatter', xAxisIndex: g, yAxisIndex: g, silent: true, z: 8, symbolSize: 1,
        itemStyle: {color: 'rgba(0,0,0,0)'}, data: [[a[1], a[2]]],
        label: {show: true, position: 'top', distance: 2, offset: [o, 0], formatter: a[0],
          fontFamily: FONT, fontSize: 12, color: '#222'}});
    });
  });
}
function mark(cx, cy, text) {
  graphics.push({type: 'text', x: cx, y: cy, z: 100, silent: true,
    style: {text: text, font: '21px "DejaVu Sans"', fill: 'rgba(70,70,70,0.85)', textAlign: 'center', textVerticalAlign: 'middle'}});
}

// small panels
var g1 = panel([80, 100, 335, 137], [-4.68, 73.8], [104.5, 168.9], tx1mn, lx1mn, ty1mn);
var g2 = panel([80, 291, 335, 137], [-4.68, 73.8], [141.2, 165.9], tx1w, lx1w, ty1w);
var g3 = panel([80, 481, 335, 137], [-6.06, 95.5], [154.55, 164.78], tx1d, lx1d, ty1d);
var g4 = panel([80, 672, 335, 137], [-4.82, 75.9], [154.46, 164.8], tx4h, lx4h, ty4h, null, 15);
var g5 = panel([80, 863, 335, 137], [-4.68, 73.8], [157.44, 159.64], tx1h, lx1h, ty1h, null, 15);
var g6 = panel([468, 99.3, 1113, 327.4], [-8.14, 115.52], [159.0242, 159.5197], tx15m, lx15m, ty15m, '#6f6fff');
var g7 = panel([468, 481, 1113, 519], [-9.66, 136.96], [159.0511, 159.4947], tx5m, lx5m, ty5m, '#ff7f7f');

// 1mn
candles(g1, c1mn, 3, 1);
zones(g1, zn1mnGrey, 'rgba(128,128,128,0.13)');
zones(g1, zn1mnBlue, 'rgba(0,0,255,0.09)');
levels(g1, lv1mn, [['#ffb3b3',2.5],['rgba(0,128,0,0.55)',2],['rgba(0,128,0,0.55)',2],['rgba(0,128,0,0.55)',2],
  ['#ffff00',2],['#008000',1.5],['#00ffff',2],['#00ffff',2],['#000080',1.5],['#ff0000',1.5],['#ffb3b3',2]]);
bands(g1, bd1mnY, row1mn, '#ffff00', 4); bands(g1, bd1mnG, row1mn, '#008000', 4);
dots(g1, dt1mnP, '#ffb3b3', 7); dots(g1, dt1mnG, '#008000', 6); dots(g1, dt1mnR, '#ff0000', 6);
mark(248, 168, 'USDJPY 1mn');

// 1w
candles(g2, c1w, 3, 1);
levels(g2, lv1w, [['#c48f8f',2.5],['rgba(0,0,255,0.1)',2],['#c0c0c0',2]]);
dots(g2, dt1wP, '#c48f8f', 7); dots(g2, dt1wG, '#008000', 6);
mark(248, 359, 'USDJPY 1w');

// 1d
candles(g3, c1d, 2.5, 1);
zones(g3, zn1dBlue, 'rgba(0,0,255,0.1)');
levels(g3, lv1d, [['#8f8fd0',2.5],['rgba(0,128,0,0.5)',1.5],['rgba(255,0,0,0.5)',1.5],['#ff0000',1.5],['#000080',2.5],
  ['#00ffff',2],['#008000',1.5],['#ffff00',2],['rgba(0,0,255,0.12)',2],['rgba(0,0,255,0.15)',2]]);
bands(g3, bd1dY, row1d, '#ffff00', 3.5); bands(g3, bd1dG, row1d, '#008000', 3.5); bands(g3, bd1dB, row1d, '#0000ff', 3.5);
dots(g3, dt1dP, '#8f8fd0', 7); dots(g3, dt1dG, '#008000', 6); dots(g3, dt1dR, '#ff0000', 6);
mark(247, 550, 'USDJPY 1d');

// 4h
candles(g4, c4h, 3, 1);
zones(g4, zn4hPink, 'rgba(255,0,0,0.13)');
zones(g4, zn4hGreen, 'rgba(0,128,0,0.1)');
zones(g4, zn4hBlue, 'rgba(0,0,255,0.06)');
levels(g4, lv4h, [['#b3b3ff',2.5],['#ffb3b3',2.5],['#ff0000',1.5],['#000080',1.5],['#00ffff',2],['#008000',1.5],
  ['#ffff00',2],['#b0b0b0',1],['#dd88cc',2],['rgba(0,128,0,0.6)',1.5]]);
bands(g4, bd4hY, row4h, '#ffff00', 3.5); bands(g4, bd4hG, row4h, '#008000', 3.5);
dots(g4, dt4hL, '#b3b3ff', 7); dots(g4, dt4hP, '#ffb3b3', 7); dots(g4, dt4hG, '#008000', 6); dots(g4, dt4hR, '#ff0000', 6);
mark(247, 741, 'USDJPY 4h');

// 1h
candles(g5, c1h, 3, 1);
levels(g5, lv1h, [['#c0c0c0',2.5],['rgba(0,128,0,0.5)',1.5],['#ffff00',2],['#008000',1.5],['#00ffff',2],
  ['#0000cc',1.5],['#ff0000',1.5],['#c0c0c0',2]]);
bands(g5, bd1hY, row1h, '#ffff00', 3.5); bands(g5, bd1hG, row1h, '#008000', 3.5);
dots(g5, dt1hP, '#c0c0c0', 7); dots(g5, dt1hG, '#008000', 6); dots(g5, dt1hR, '#ff0000', 6);
mark(247, 933, 'USDJPY 1h');

// 15m
candles(g6, c15m, 6, 1.5);
zones(g6, zn15Green, 'rgba(0,128,0,0.18)', 'rgba(150,150,150,0.35)');
zones(g6, zn15Steel, 'rgba(70,110,180,0.3)');
levels(g6, lv15m, [['#8c8c8c',2],['#444444',2],['#ff8080',2],['#ffff00',2],['#008000',1.5],['#00ffff',2],
  ['#000080',1.5],['#ff0000',1.5],['#c0c0c0',2],['#b0b0b0',1]]);
bands(g6, bd15B, row15, '#0000ff', 6);
dots(g6, dt15Grey, '#888888', 7); dots(g6, dt15Dark, '#444444', 7); dots(g6, dt15G, '#008000', 6); dots(g6, dt15R, '#ff0000', 5);
annots(g6, an15.slice(0, 1), true); annots(g6, an15.slice(1), false);
mark(1025, 264, 'USDJPY 15m');

// 5m
candles(g7, c5m, 5.5, 1.5);
zones(g7, zn5Pink, 'rgba(255,0,0,0.2)', null, 4);
zones(g7, zn5Blue, 'rgba(0,0,255,0.2)', null, 4);
zones(g7, zn5Tp, 'rgba(0,128,0,0.5)', 'rgba(80,80,80,0.5)', 5);
zones(g7, zn5Sl, 'rgba(128,128,128,0.5)', 'rgba(80,80,80,0.5)', 5);
levels(g7, lv5m, [['#c8c8c8',2.5],['#9a9a9a',2.5],['#ffb0b0',2.5],['#4ca64c',2],['#4ca64c',2],['#4ca64c',2],
  ['#ff0000',2.5],['#000080',2],['#00ffff',2.5],['#008000',2],['#ffff00',2.5],['rgba(150,40,40,0.45)',2],['#444444',1.5,6]]);
bands(g7, bd5Y, row5, '#ffff00', 6.5); bands(g7, bd5G, row5, '#008000', 6.5);
dots(g7, dt5Grey, '#a8a8a8', 7); dots(g7, dt5Pink, '#ffb3b3', 7); dots(g7, dt5G, '#008000', 6); dots(g7, dt5R, '#ff0000', 6);
annots(g7, an5, false);
mark(1024, 741, 'USDJPY 5m');

// text panel
var dashes = new Array(75).join('-');
panelLines.forEach(function (ln, k) {
  var y = 88.3 + 12.35 * k, mode = ln[1], x = 1587, al = 'left', t = ln[0];
  if (mode === 'dash') { t = dashes; }
  else if (mode === 'i') { x = 1623; }
  else if (mode.charAt(0) === 'c') { x = +mode.slice(1); al = 'center'; }
  if (!t) return;
  graphics.push({type: 'text', x: x, y: y, z: 100, silent: true,
    style: {text: t, font: '9.4px "DejaVu Sans"', fill: '#111', textAlign: al, textVerticalAlign: 'middle'}});
});

var chart = echarts.init(document.getElementById('main'));
chart.setOption({
  animation: false,
  backgroundColor: '#ffffff',
  title: {text: 'TITRE : YDI 5m || Strategie : YDI || Symbol : USDJPY || TimeFrame : 5m', left: 91, top: 34,
    textStyle: {fontFamily: FONT, fontSize: 17, fontWeight: 'bold', color: '#222'}},
  grid: grids, xAxis: xAxes, yAxis: yAxes, series: series, graphic: graphics
});
</script>
</body>
</html>
